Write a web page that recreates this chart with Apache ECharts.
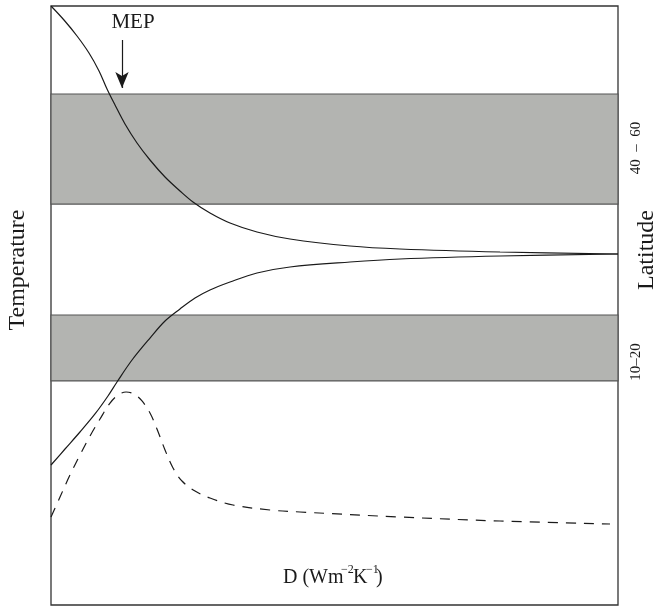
<!DOCTYPE html>
<html>
<head>
<meta charset="utf-8">
<script src="https://cdn.jsdelivr.net/npm/echarts@6/dist/echarts.min.js"></script>
<style>
  html, body { margin: 0; padding: 0; background: #fff; }
  #chart { width: 663px; height: 606px; }
</style>
</head>
<body>
<div id="chart"></div>
<script>
// Temperature profiles against heat diffusion D (arbitrary units 0..100 on both axes)
const upperCurve = [
  [0, 100], [2.29, 97.66], [4.59, 94.99], [6.70, 92.15], [8.47, 89.15],
  [9.88, 86.14], [11.29, 83.47], [13.05, 80.30], [15.17, 77.13], [17.46, 74.29],
  [20.11, 71.45], [22.75, 69.12], [25.04, 67.28], [28.04, 65.44], [31.57, 63.77],
  [36.33, 62.27], [42.15, 61.10], [52.73, 59.93], [61.55, 59.43], [79.19, 58.93],
  [100, 58.60]
];
const lowerCurve = [
  [0, 23.37], [2.47, 26.04], [5.11, 28.88], [7.76, 31.89], [10.05, 34.89],
  [11.64, 37.23], [14.29, 40.90], [17.46, 44.57], [20.11, 47.41], [22.75, 49.42],
  [25.40, 51.25], [28.04, 52.59], [31.57, 53.92], [36.33, 55.43], [42.15, 56.43],
  [52.73, 57.26], [61.55, 57.76], [79.19, 58.26], [100, 58.60]
];
const dashedCurve = [
  [0, 14.69], [1.59, 18.03], [3.35, 21.70], [5.11, 25.04], [6.88, 28.21],
  [8.64, 31.05], [10.41, 33.72], [11.82, 35.06], [13.23, 35.56], [14.64, 35.23],
  [16.05, 34.06], [17.46, 32.05], [18.69, 29.38], [20.11, 25.88], [21.52, 22.87],
  [23.10, 20.70], [25.40, 19.03], [28.04, 17.86], [32.10, 16.69], [38.62, 15.86],
  [43.92, 15.53], [61.55, 14.69], [79.19, 14.02], [98.59, 13.52]
];
// Latitude bands on the temperature axis: [bottom, top]
const bandHigh = [66.94, 85.31];   // 40 – 60
const bandLow = [37.40, 48.41];    // 10–20
// MEP arrow: x position and vertical extent
const mepX = 12.52;
const mepArrow = [94.32, 86.31];

const serif = '"Liberation Serif", "DejaVu Serif", serif';
const ink = '#1a1a1a';

const chart = echarts.init(document.getElementById('chart'), null, { renderer: 'canvas' });

const curveStyle = { color: ink, width: 1.2 };

function txt(x, y, text, size) {
  return {
    type: 'text', x: x, y: y,
    style: { text: text, font: size + 'px ' + serif, fill: ink, align: 'left', verticalAlign: 'middle' }
  };
}

chart.setOption({
  animation: false,
  backgroundColor: '#fff',
  grid: {
    left: 51, top: 6, right: 45, bottom: 1,
    show: true, borderColor: '#333', borderWidth: 1.3, backgroundColor: 'transparent'
  },
  xAxis: {
    type: 'value', min: 0, max: 100,
    axisLine: { show: false }, axisTick: { show: false },
    axisLabel: { show: false }, splitLine: { show: false }
  },
  yAxis: {
    type: 'value', min: 0, max: 100,
    axisLine: { show: false }, axisTick: { show: false },
    axisLabel: { show: false }, splitLine: { show: false }
  },
  series: [
    {
      type: 'line', name: 'bands', data: [], silent: true, z: 1,
      markArea: {
        silent: true,
        itemStyle: { color: '#b3b4b1', borderColor: '#555', borderWidth: 1.2 },
        data: [
          [{ yAxis: bandHigh[0] }, { yAxis: bandHigh[1] }],
          [{ yAxis: bandLow[0] }, { yAxis: bandLow[1] }]
        ]
      }
    },
    {
      type: 'line', name: 'upper', data: upperCurve, smooth: 0.35,
      showSymbol: false, z: 3, lineStyle: curveStyle
    },
    {
      type: 'line', name: 'lower', data: lowerCurve, smooth: 0.35,
      showSymbol: false, z: 3, lineStyle: curveStyle
    },
    {
      type: 'line', name: 'dashed', data: dashedCurve, smooth: 0.35,
      showSymbol: false, z: 3, lineStyle: { color: ink, width: 1.2, type: [10, 8] }
    },
    {
      type: 'line', name: 'mep', data: [], z: 4,
      markLine: {
        silent: true,
        symbol: ['none', 'arrow'],
        symbolSize: [10, 16],
        lineStyle: { color: ink, width: 1.2, type: 'solid' },
        label: { show: false },
        data: [[{ coord: [mepX, mepArrow[0]] }, { coord: [mepX, mepArrow[1]] }]]
      }
    }
  ],
  graphic: [
    {
      type: 'text', x: 133, y: 22,
      style: { text: 'MEP', font: '21px ' + serif, fill: ink, align: 'center', verticalAlign: 'middle' }
    },
    {
      type: 'text', x: 18, y: 270, rotation: Math.PI / 2,
      style: { text: 'Temperature', font: '24px ' + serif, fill: ink, align: 'center', verticalAlign: 'middle' }
    },
    {
      type: 'text', x: 647, y: 250, rotation: Math.PI / 2,
      style: { text: 'Latitude', font: '24px ' + serif, fill: ink, align: 'center', verticalAlign: 'middle' }
    },
    {
      type: 'text', x: 636, y: 148, rotation: Math.PI / 2,
      style: { text: '40  \u2013  60', font: '15px ' + serif, fill: ink, align: 'center', verticalAlign: 'middle' }
    },
    {
      type: 'text', x: 636, y: 362, rotation: Math.PI / 2,
      style: { text: '10\u201320', font: '15px ' + serif, fill: ink, align: 'center', verticalAlign: 'middle' }
    },
    // Unit label D (W m^-2 K^-1) with tightly kerned superscripts
    {
      type: 'group', x: 283, y: 578,
      children: [
        txt(0, 0, 'D (Wm', 20),
        txt(58, -8, '\u22122', 12),
        txt(70, 0, 'K', 20),
        txt(83, -8, '\u22121', 12),
        txt(93, 0, ')', 20)
      ]
    }
  ]
});
</script>
</body>
</html>
